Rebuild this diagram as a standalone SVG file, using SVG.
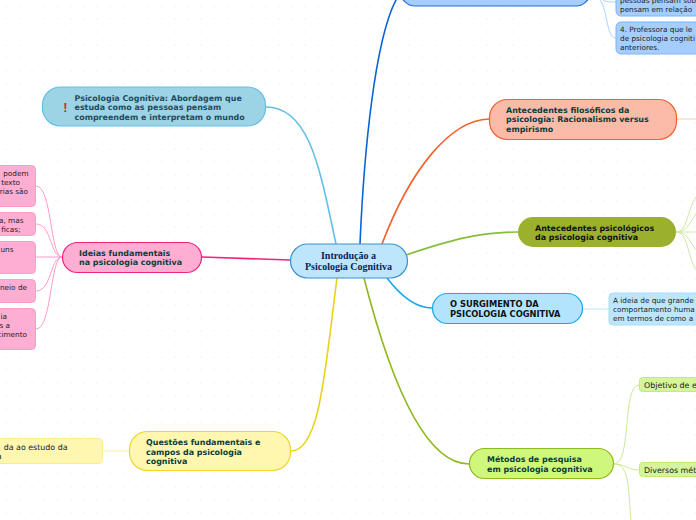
<svg xmlns="http://www.w3.org/2000/svg" width="696" height="520" viewBox="0 0 696 520">
<style>
text{font-family:"DejaVu Sans",sans-serif}
.t{font-size:7.95px;font-weight:bold;fill:#0b3d3a}
.k{font-size:7.95px;font-weight:bold;fill:#111}
.l{font-size:7.3px;fill:#222}
.e{text-anchor:end}
.m{font-size:7.9px;fill:#222}
.a{font-size:7.95px;font-weight:bold;fill:#234a5e}
.h{font-family:"Liberation Serif",serif;font-size:10px;font-weight:bold;fill:#0b2255;text-anchor:middle}
.c{fill:none;stroke-width:1.6;stroke-linecap:round}
.s{fill:none;stroke-width:1}
</style>
<defs><pattern id="d" width="13" height="13" patternUnits="userSpaceOnUse"><circle cx="6" cy="6" r="0.8" fill="#f0f0f0"/></pattern></defs>
<rect width="696" height="520" fill="#fff"/><rect width="696" height="520" fill="url(#d)"/>
<g id="connectors">
<path class="c" d="M360 244C364 150 375 40 396 0" stroke="#0a63d8"/>
<path class="c" d="M382 244C410 170 450 120 489 119" stroke="#f2602c"/>
<path class="c" d="M406 255C450 240 480 232 518 232" stroke="#86bd3c"/>
<path class="c" d="M387 278C400 295 415 308 432 308" stroke="#1aa7ec"/>
<path class="c" d="M364 278C385 360 420 464 469 464" stroke="#8fb81c"/>
<path class="c" d="M337 278C325 370 320 451 291 451" stroke="#e9d21e"/>
<path class="c" d="M290 260L202 257" stroke="#f0237f"/>
<path class="c" d="M336 244C320 170 310 107 266 107" stroke="#62c0e8"/>
<path class="s" stroke="#ff9cc8" d="M62 257C50 257 52 186 36 186M62 257C50 257 52 224 36 224M62 257H36M62 257C50 257 52 291 36 291M62 257C50 257 52 329 36 329"/>
<path class="s" stroke="#fff09a" d="M129 451H103"/>
<path class="s" stroke="#a9d4ff" d="M603 0C606 2 610 2 616 2M600 0C608 10 606 38 616 38"/>
<path class="s" stroke="#ffc4b0" d="M677 119H696"/>
<path class="s" stroke="#cfe6a8" d="M676 232C688 232 686 212 696 197M676 232C686 232 688 226 696 214M676 232H696M676 232C686 232 688 238 696 250M676 232C688 232 686 252 696 270"/>
<path class="s" stroke="#bde4fb" d="M583 309H609"/>
<path class="s" stroke="#cdea90" d="M614 464C632 464 622 385 639 385M614 464C625 464 628 470 639 470M614 464C630 464 628 490 631 520"/>
</g>
<g id="n-central"><rect x="290.500" y="244" width="117" height="34" rx="17" fill="#bde6fd" stroke="#3c8fd0" stroke-width="1.2"/>
<text class="h" x="348.500" y="258.500">Introdução a</text>
<text class="h" x="348.500" y="269.500">Psicologia Cognitiva</text></g>
<g id="n-blue"><rect x="401" y="-30" width="189" height="36" rx="14" fill="#a5cdfd" stroke="#1f6fdc" stroke-width="1.2"/></g>
<g id="n-blue3"><rect x="616" y="-20" width="100" height="36" rx="5" fill="#a5cdfd" stroke="#7fb2f5"/><text class="l" x="620" y="3">pessoas pensam sob</text><text class="l" x="620" y="12">pensam em relação</text></g>
<g id="n-blue4"><rect x="616" y="22" width="100" height="32" rx="5" fill="#a5cdfd" stroke="#7fb2f5"/><text class="l" x="620" y="31.500">4. Professora que le</text><text class="l" x="620" y="40.500">de psicologia cogniti</text><text class="l" x="620" y="49.500">anteriores.</text></g>
<g id="n-filo"><rect x="489.500" y="99.500" width="187" height="40" rx="18" fill="#fbbba8" stroke="#f2602c" stroke-width="1.2"/>
<text class="t" x="506" y="113">Antecedentes filosóficos da</text><text class="t" x="506" y="122">psicologia: Racionalismo versus</text><text class="t" x="506" y="131.500">empirismo</text></g>
<g id="n-psi"><rect x="518" y="217" width="158" height="30" rx="15" fill="#9bb02c"/>
<text class="k" x="535" y="231">Antecedentes psicológicos</text><text class="k" x="535" y="240">da psicologia cognitiva</text></g>
<g id="n-surg"><rect x="432.500" y="293.500" width="150" height="30" rx="15" fill="#b3e4fd" stroke="#1aa7ec" stroke-width="1.2"/>
<text class="k" x="450" y="307" style="font-size:8.3px">O SURGIMENTO DA</text><text class="k" x="450" y="317" style="font-size:8.3px">PSICOLOGIA COGNITIVA</text></g>
<g id="n-surg1"><rect x="609" y="293" width="110" height="32" rx="4" fill="#bde6fd" stroke="#a5dcfa"/><text class="l" x="613" y="303">A ideia de que grande</text><text class="l" x="613" y="312">comportamento huma</text><text class="l" x="613" y="321">em termos de como a</text></g>
<g id="n-met"><rect x="469.500" y="448.500" width="144" height="30" rx="15" fill="#cff77c" stroke="#8fb81c" stroke-width="1.2"/>
<text class="t" x="487" y="462">Métodos de pesquisa</text><text class="t" x="487" y="472">em psicologia cognitiva</text></g>
<g id="n-m1"><rect x="639.500" y="377.500" width="80" height="14" rx="3" fill="#d4f59a" stroke="#c4ea7c"/><text class="m" x="644" y="388">Objetivo de e</text></g>
<g id="n-m2"><rect x="639.500" y="462.500" width="80" height="14" rx="3" fill="#d4f59a" stroke="#c4ea7c"/><text class="m" x="644" y="473">Diversos mét</text></g>
<g id="n-q"><rect x="129.500" y="431.500" width="161" height="39" rx="18" fill="#fff6b0" stroke="#efd62c" stroke-width="1.2"/>
<text class="t" x="146" y="445">Questões fundamentais e</text><text class="t" x="146" y="455">campos da psicologia</text><text class="t" x="146" y="464">cognitiva</text></g>
<g id="n-q1"><rect x="-40" y="438.500" width="142.500" height="25" rx="4" fill="#fff6b0" stroke="#fbeb90"/><text class="m e" x="67.500" y="450">da ao estudo da</text><text class="m e" x="1.500" y="459">a</text></g>
<g id="n-id"><rect x="62.500" y="242.500" width="139" height="30" rx="15" fill="#ffaed3" stroke="#f0237f" stroke-width="1.2"/>
<text class="t" x="79" y="255.500">Ideias fundamentais</text><text class="t" x="79" y="265">na psicologia cognitiva</text></g>
<g id="n-p1"><rect x="-60" y="165.500" width="95.500" height="41" rx="4" fill="#ffaed3" stroke="#ff9cc8"/><text class="l e" x="28.500" y="176">podem</text><text class="l e" x="20" y="185">texto</text><text class="l e" x="28" y="194">rias são</text></g>
<g id="n-p2"><rect x="-60" y="212.500" width="95.500" height="23" rx="4" fill="#ffaed3" stroke="#ff9cc8"/><text class="l e" x="23.500" y="223">a, mas</text><text class="l e" x="20.500" y="232">ficas;</text></g>
<g id="n-p3"><rect x="-60" y="241.500" width="95.500" height="32" rx="4" fill="#ffaed3" stroke="#ff9cc8"/><text class="l e" x="13.500" y="252">uns</text></g>
<g id="n-p4"><rect x="-60" y="279.500" width="95.500" height="23" rx="4" fill="#ffaed3" stroke="#ff9cc8"/><text class="l e" x="27" y="290">neio de</text></g>
<g id="n-p5"><rect x="-60" y="308.500" width="95.500" height="41" rx="4" fill="#ffaed3" stroke="#ff9cc8"/><text class="l e" x="7" y="319">ia</text><text class="l e" x="10" y="328">s a</text><text class="l e" x="27" y="337">cimento</text></g>
<g id="n-ab"><rect x="42.500" y="87" width="223" height="39" rx="18" fill="#9cd4e6" stroke="#62c0e8" stroke-width="1.2"/>
<text x="65.500" y="112" text-anchor="middle" style="font-size:13px;font-weight:bold;fill:#d8232a;font-family:'Liberation Sans',sans-serif">!</text>
<text class="a" x="74.500" y="100.500">Psicologia Cognitiva: Abordagem que</text><text class="a" x="74.500" y="109.500">estuda como as pessoas pensam</text><text class="a" x="74.500" y="119.500">compreendem e interpretam o mundo</text></g>
</svg>
